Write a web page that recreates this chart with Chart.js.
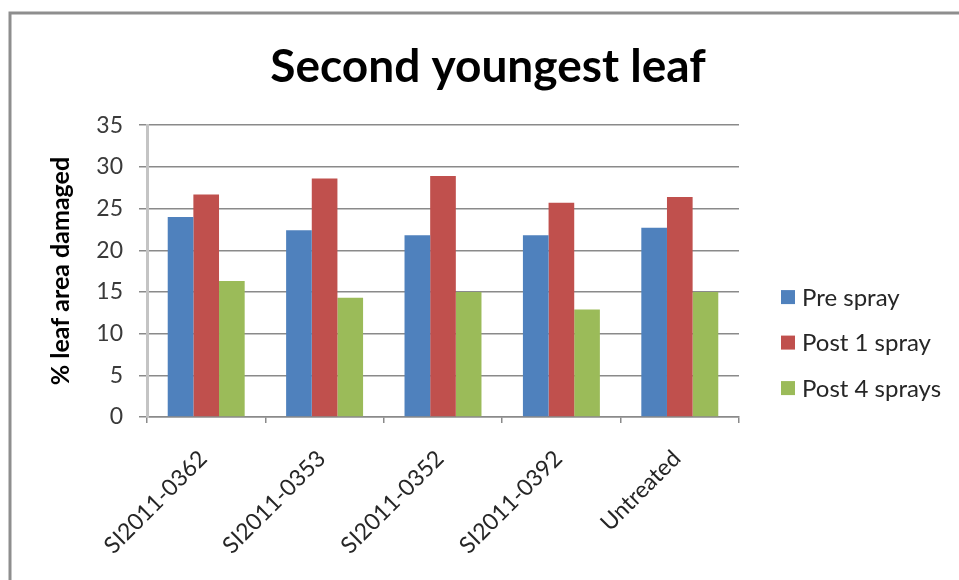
<!DOCTYPE html>
<html>
<head>
<meta charset="utf-8">
<script src="https://cdn.jsdelivr.net/npm/chart.js@4.4.1/dist/chart.umd.min.js"></script>
<style>
  html, body { margin: 0; padding: 0; background: #ffffff; }
  #wrap { width: 959px; height: 580px; position: relative; }
</style>
</head>
<body>
<div id="wrap"><canvas id="c" width="959" height="580"></canvas></div>
<script>
// Leaf damage assessment, second youngest leaf
const categories = ['SI2011-0362', 'SI2011-0353', 'SI2011-0352', 'SI2011-0392', 'Untreated'];
const seriesNames = ['Pre spray', 'Post 1 spray', 'Post 4 sprays'];
const preSpray   = [24.0, 22.4, 21.8, 21.8, 22.7];
const post1Spray = [26.7, 28.6, 28.9, 25.7, 26.4];
const post4Spray = [16.3, 14.3, 15.0, 12.9, 15.0];
const yTicks = [0, 5, 10, 15, 20, 25, 30, 35];

const colors = ['#4F81BD', '#C0504D', '#9BBB59'];
const FONT = 'Lato, "Open Sans", sans-serif';

// Outer frame of the chart panel
const framePlugin = {
  id: 'frame',
  beforeDraw(chart) {
    const ctx = chart.ctx;
    ctx.save();
    ctx.fillStyle = '#ffffff';
    ctx.fillRect(0, 0, chart.width, chart.height);
    ctx.strokeStyle = '#8e8e8e';
    ctx.lineWidth = 3;
    ctx.beginPath();
    ctx.moveTo(10, chart.height);
    ctx.lineTo(10, 13);
    ctx.lineTo(chart.width, 13);
    ctx.stroke();
    ctx.restore();
  }
};

// Legend drawn to the right of the plot, centred on the full panel height
const sideLegend = {
  id: 'sideLegend',
  afterDraw(chart) {
    const ctx = chart.ctx;
    const area = chart.chartArea;
    const x0 = area.right + 42;
    const rowGap = 45.5;
    const yMid = area.top + (area.bottom - area.top) * 0.745;
    ctx.save();
    ctx.font = '24px ' + FONT;
    ctx.textBaseline = 'middle';
    ctx.textAlign = 'left';
    chart.data.datasets.forEach((ds, i) => {
      const y = yMid + (i - 1) * rowGap;
      ctx.fillStyle = ds.backgroundColor;
      ctx.fillRect(x0, y - 7, 14, 14);
      ctx.fillStyle = '#262626';
      ctx.fillText(ds.label, x0 + 21, y + 1);
    });
    ctx.restore();
  }
};

new Chart(document.getElementById('c'), {
  type: 'bar',
  data: {
    labels: categories,
    datasets: [
      { label: seriesNames[0], data: preSpray,   backgroundColor: colors[0] },
      { label: seriesNames[1], data: post1Spray, backgroundColor: colors[1] },
      { label: seriesNames[2], data: post4Spray, backgroundColor: colors[2] }
    ]
  },
  options: {
    responsive: false,
    animation: false,
    devicePixelRatio: 1,
    layout: { padding: { left: 17, right: 0, top: 14, bottom: 0 } },
    datasets: { bar: { categoryPercentage: 0.65, barPercentage: 1.0, borderWidth: 0 } },
    plugins: {
      legend: { display: false },
      tooltip: { enabled: false },
      title: {
        display: true,
        text: 'Second youngest leaf',
        color: '#000000',
        font: { family: FONT, size: 46, weight: 'bold' },
        padding: { top: 26, bottom: 30 }
      }
    },
    scales: {
      x: {
        offset: true,
        grid: { display: true, drawOnChartArea: false, drawTicks: true, tickLength: 6, color: '#8a8a8a', lineWidth: 1.5, offset: true },
        border: { display: true, color: '#8a8a8a', width: 1.5 },
        ticks: {
          color: '#262626',
          font: { family: FONT, size: 23 },
          minRotation: 45, maxRotation: 45,
          padding: 22,
          labelOffset: -3,
          autoSkip: false
        },
        afterFit(scale) {
          scale.paddingLeft = 0;
          scale.paddingRight = 0;
          scale.height = 163;
        }
      },
      y: {
        min: 0, max: 35,
        afterBuildTicks(scale) { scale.ticks = yTicks.map(v => ({ value: v })); },
        grid: { color: '#8a8a8a', lineWidth: 1.5, tickLength: 8, drawTicks: true },
        border: { display: true, color: '#c4c4c4', width: 3 },
        ticks: { color: '#3a3a3a', font: { family: FONT, size: 23 }, padding: 16 },
        title: {
          display: true,
          text: '% leaf area damaged',
          color: '#000000',
          font: { family: FONT, size: 25, weight: 'bold' },
          padding: { top: 29, bottom: 19 }
        },
        afterFit(scale) { scale.width = 130; }
      },
      ySide: {
        position: 'right',
        display: true,
        grid: { display: false, drawTicks: false },
        border: { display: false },
        ticks: { display: false },
        afterFit(scale) { scale.width = 220; }
      }
    }
  },
  plugins: [framePlugin, sideLegend]
});
</script>
</body>
</html>
